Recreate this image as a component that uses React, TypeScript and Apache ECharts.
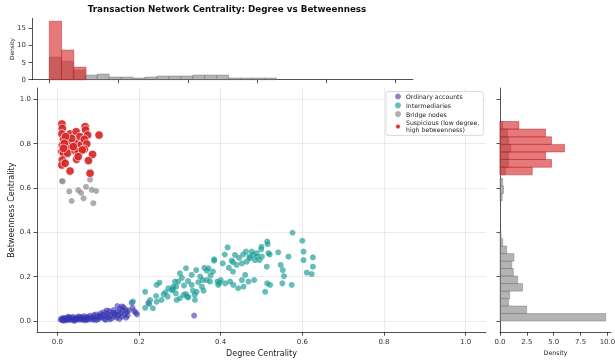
import React, { useEffect, useRef } from 'react';
import * as echarts from 'echarts';

// ---- Scatter data: [degree, betweenness]
const ordinary: number[][] = [
  [0.008, 0.006], [0.010, 0.012], [0.012, 0.004], [0.014, 0.009], [0.016, 0.015], [0.018, 0.007],
  [0.020, 0.011], [0.022, 0.003], [0.024, 0.013], [0.026, 0.008], [0.028, 0.017], [0.030, 0.005],
  [0.032, 0.010], [0.034, 0.014], [0.036, 0.006], [0.038, 0.019], [0.040, 0.009], [0.042, 0.012],
  [0.044, 0.004], [0.046, 0.016], [0.048, 0.008], [0.050, 0.011], [0.052, 0.021], [0.054, 0.006],
  [0.056, 0.013], [0.058, 0.009], [0.060, 0.018], [0.062, 0.005], [0.064, 0.012], [0.066, 0.022],
  [0.068, 0.008], [0.070, 0.015], [0.072, 0.010], [0.074, 0.019], [0.076, 0.006], [0.078, 0.013],
  [0.080, 0.024], [0.015, 0.002], [0.027, 0.020], [0.041, 0.001], [0.055, 0.017], [0.069, 0.003],
  [0.083, 0.009], [0.086, 0.017], [0.089, 0.027], [0.092, 0.012], [0.095, 0.030], [0.098, 0.020],
  [0.100, 0.008], [0.103, 0.025], [0.106, 0.035], [0.108, 0.015], [0.111, 0.028], [0.114, 0.040],
  [0.116, 0.010], [0.119, 0.022], [0.122, 0.033], [0.125, 0.018], [0.127, 0.045], [0.130, 0.027],
  [0.133, 0.012], [0.135, 0.038], [0.138, 0.050], [0.140, 0.022], [0.143, 0.032], [0.145, 0.015],
  [0.148, 0.043], [0.147, 0.068], [0.150, 0.028], [0.153, 0.055], [0.155, 0.036], [0.158, 0.020],
  [0.160, 0.047], [0.162, 0.062], [0.165, 0.030], [0.167, 0.052], [0.170, 0.040], [0.172, 0.025],
  [0.168, 0.015], [0.175, 0.048], [0.182, 0.083], [0.184, 0.060], [0.188, 0.045], [0.192, 0.038],
  [0.195, 0.030], [0.158, 0.066], [0.223, 0.082], [0.335, 0.025], [0.118, 0.005], [0.128, 0.008],
  [0.095, 0.004], [0.105, 0.018], [0.088, 0.006], [0.152, 0.010], [0.139, 0.035], [0.121, 0.048],
];

const intermediaries: number[][] = [
  [0.215, 0.132], [0.215, 0.060], [0.234, 0.058], [0.243, 0.087], [0.242, 0.113], [0.243, 0.163],
  [0.250, 0.173], [0.227, 0.095], [0.225, 0.077], [0.185, 0.088], [0.272, 0.148], [0.283, 0.143],
  [0.288, 0.178], [0.292, 0.095], [0.300, 0.103], [0.309, 0.118], [0.315, 0.122], [0.321, 0.107],
  [0.280, 0.140], [0.291, 0.155], [0.296, 0.178], [0.284, 0.155], [0.300, 0.215], [0.315, 0.238],
  [0.329, 0.208], [0.329, 0.163], [0.332, 0.137], [0.336, 0.118], [0.341, 0.132], [0.340, 0.230],
  [0.337, 0.095], [0.318, 0.110], [0.356, 0.185], [0.354, 0.155], [0.358, 0.137], [0.366, 0.227],
  [0.370, 0.238], [0.366, 0.185], [0.374, 0.178], [0.381, 0.223], [0.384, 0.278], [0.384, 0.272],
  [0.392, 0.178], [0.394, 0.163], [0.397, 0.172], [0.411, 0.170], [0.417, 0.332], [0.423, 0.178],
  [0.427, 0.272], [0.430, 0.223], [0.431, 0.163], [0.435, 0.298], [0.439, 0.253], [0.443, 0.148],
  [0.452, 0.185], [0.452, 0.260], [0.456, 0.155], [0.460, 0.208], [0.462, 0.313], [0.464, 0.268],
  [0.468, 0.178], [0.472, 0.283], [0.476, 0.313], [0.479, 0.298], [0.482, 0.185], [0.484, 0.275],
  [0.488, 0.306], [0.495, 0.275], [0.499, 0.323], [0.501, 0.290], [0.509, 0.132], [0.513, 0.245],
  [0.514, 0.358], [0.515, 0.347], [0.514, 0.170], [0.517, 0.306], [0.521, 0.163], [0.541, 0.310],
  [0.547, 0.253], [0.552, 0.230], [0.555, 0.203], [0.566, 0.290], [0.551, 0.170], [0.574, 0.163],
  [0.576, 0.398], [0.600, 0.362], [0.603, 0.313], [0.603, 0.275], [0.611, 0.218], [0.623, 0.212],
  [0.626, 0.287], [0.626, 0.245], [0.470, 0.290], [0.490, 0.290], [0.455, 0.300], [0.445, 0.285],
  [0.430, 0.265], [0.400, 0.185], [0.375, 0.205], [0.360, 0.240], [0.350, 0.200], [0.345, 0.175],
  [0.310, 0.160], [0.305, 0.195], [0.290, 0.125], [0.270, 0.110], [0.260, 0.120], [0.255, 0.095],
  [0.265, 0.130], [0.320, 0.180], [0.410, 0.300], [0.420, 0.240], [0.405, 0.260], [0.520, 0.300],
  [0.500, 0.335],
];

const bridges: number[][] = [
  [0.011, 0.631], [0.013, 0.629], [0.029, 0.584], [0.035, 0.541], [0.051, 0.590], [0.058, 0.578],
  [0.064, 0.553], [0.070, 0.605], [0.080, 0.637], [0.084, 0.591], [0.095, 0.586], [0.088, 0.531],
];

const suspicious: number[][] = [
  [0.011, 0.888], [0.012, 0.868], [0.011, 0.843], [0.015, 0.819], [0.012, 0.793], [0.011, 0.763],
  [0.015, 0.756], [0.012, 0.726], [0.011, 0.703], [0.019, 0.711], [0.031, 0.843], [0.028, 0.816],
  [0.033, 0.801], [0.027, 0.778], [0.025, 0.756], [0.031, 0.676], [0.046, 0.853], [0.047, 0.801],
  [0.043, 0.768], [0.047, 0.729], [0.055, 0.831], [0.058, 0.793], [0.051, 0.763], [0.068, 0.876],
  [0.069, 0.861], [0.074, 0.838], [0.066, 0.819], [0.072, 0.798], [0.066, 0.774], [0.102, 0.838],
  [0.086, 0.751], [0.076, 0.723], [0.080, 0.666], [0.035, 0.823], [0.020, 0.831], [0.061, 0.771],
  [0.051, 0.741], [0.017, 0.801], [0.039, 0.786], [0.015, 0.778],
];

// ---- Histograms: [binStart, binEnd, density]
const degreeAllHist: number[][] = [
  [0.0, 0.0345, 6.58], [0.0345, 0.069, 5.4], [0.069, 0.1035, 2.8], [0.1035, 0.138, 1.35],
  [0.138, 0.1725, 1.65], [0.1725, 0.207, 0.78], [0.207, 0.2415, 0.78], [0.2415, 0.276, 0.5],
  [0.276, 0.3105, 0.78], [0.3105, 0.345, 1.07], [0.345, 0.3795, 1.07], [0.3795, 0.414, 1.07],
  [0.414, 0.4485, 1.35], [0.4485, 0.483, 1.35], [0.483, 0.5175, 1.35], [0.5175, 0.552, 0.5],
  [0.552, 0.5865, 0.5], [0.5865, 0.621, 0.5], [0.621, 0.6555, 0.5],
];
const degreeSuspHist: number[][] = [
  [0.0, 0.0354, 17.0], [0.0354, 0.0707, 8.6], [0.0707, 0.106, 3.67],
];
const betweenAllHist: number[][] = [
  [0.0, 0.034, 9.84], [0.034, 0.068, 2.48], [0.068, 0.101, 0.8], [0.101, 0.135, 0.9],
  [0.135, 0.169, 2.1], [0.169, 0.203, 1.65], [0.203, 0.237, 1.24], [0.237, 0.27, 1.1],
  [0.27, 0.304, 1.3], [0.304, 0.338, 0.62], [0.338, 0.372, 0.25], [0.372, 0.406, 0.1],
  [0.541, 0.575, 0.2], [0.575, 0.609, 0.33], [0.609, 0.643, 0.25],
  [0.659, 0.693, 0.5], [0.693, 0.728, 0.8], [0.728, 0.762, 0.8], [0.762, 0.796, 1.0],
  [0.796, 0.83, 0.8], [0.83, 0.865, 0.7], [0.865, 0.899, 0.25],
];
const betweenSuspHist: number[][] = [
  [0.659, 0.693, 3.0], [0.693, 0.728, 4.8], [0.728, 0.762, 4.24], [0.762, 0.796, 6.0],
  [0.796, 0.83, 4.8], [0.83, 0.865, 4.24], [0.865, 0.899, 1.76],
];

const mainTicks = [0, 0.2, 0.4, 0.6, 0.8, 1.0];
const topDensityTicks = [0, 5, 10, 15];
const rightDensityTicks = [0, 2.5, 5, 7.5, 10];

const TITLE = 'Transaction Network Centrality: Degree vs Betweenness';
const NAMES = ['Ordinary accounts', 'Intermediaries', 'Bridge nodes', 'Suspicious (low degree,\nhigh betweenness)'];

export default function App() {
  const ref = useRef<HTMLDivElement>(null);
  useEffect(() => {
    const chart = echarts.init(ref.current as HTMLDivElement, null, { renderer: 'svg' });
    const font = 'DejaVu Sans';
    const dark = '#262626';
    const line = { show: true, onZero: false, lineStyle: { color: dark, width: 0.8 } };
    const tick = (vals: number[]) => ({ show: true, length: 3.5, lineStyle: { color: dark, width: 0.8 }, customValues: vals });
    const label = (vals: number[], margin: number, fmt?: (v: number) => string) => ({
      show: true, customValues: vals, fontSize: 7, color: '#333', margin, fontFamily: font,
      formatter: fmt || ((v: number) => String(v)),
    });
    const fix1 = (v: number) => v.toFixed(1);

    const vHist = (data: number[][], fill: string, stroke: string) => ({
      type: 'custom', xAxisIndex: 1, yAxisIndex: 1, data, silent: true,
      encode: { x: [0, 1], y: 2 },
      renderItem: (_p: any, api: any) => {
        const a = api.coord([api.value(0), 0]);
        const b = api.coord([api.value(1), api.value(2)]);
        return { type: 'rect', shape: { x: a[0], y: b[1], width: b[0] - a[0], height: a[1] - b[1] }, style: { fill, stroke, lineWidth: 0.6 } };
      },
    });
    const hHist = (data: number[][], fill: string, stroke: string) => ({
      type: 'custom', xAxisIndex: 2, yAxisIndex: 2, data, silent: true,
      encode: { y: [0, 1], x: 2 },
      renderItem: (_p: any, api: any) => {
        const a = api.coord([0, api.value(0)]);
        const b = api.coord([api.value(2), api.value(1)]);
        return { type: 'rect', shape: { x: a[0], y: b[1], width: b[0] - a[0], height: a[1] - b[1] }, style: { fill, stroke, lineWidth: 0.6 } };
      },
    });
    const grayFill = 'rgba(128,128,128,0.6)';
    const grayStroke = 'rgba(110,110,110,0.7)';
    const redFill = 'rgba(214,39,40,0.62)';
    const redStroke = 'rgba(190,30,30,0.75)';

    chart.setOption({
      animation: false,
      textStyle: { fontFamily: font },
      title: {
        text: TITLE, left: 222, top: -1, textAlign: 'center',
        textStyle: { fontSize: 8.75, fontWeight: 'bold', color: '#111', fontFamily: font },
      },
      grid: [
        { left: 37, top: 88, width: 449, height: 244.2, outerBoundsMode: 'none', containLabel: false },
        { left: 32, top: 18.3, width: 381, height: 61.4, outerBoundsMode: 'none', containLabel: false },
        { left: 500, top: 88, width: 111, height: 244.2, outerBoundsMode: 'none', containLabel: false },
      ],
      xAxis: [
        {
          gridIndex: 0, type: 'value', min: -0.05, max: 1.05,
          axisLine: line, axisTick: tick(mainTicks), axisLabel: label(mainTicks, 6, fix1),
          splitLine: { show: true, lineStyle: { color: '#e6e6e6', width: 0.8 } },
          name: 'Degree Centrality', nameLocation: 'middle', nameGap: 17, nameMoveOverlap: false,
          nameTextStyle: { fontSize: 8, color: '#222', fontFamily: font },
        },
        {
          gridIndex: 1, type: 'value', min: -0.05, max: 1.05,
          axisLine: line, axisTick: tick(mainTicks), axisLabel: { show: false, customValues: mainTicks },
          splitLine: { show: false },
        },
        {
          gridIndex: 2, type: 'value', min: 0, max: 10.33,
          axisLine: line, axisTick: tick(rightDensityTicks), axisLabel: label(rightDensityTicks, 6, fix1),
          splitLine: { show: false },
          name: 'Density', nameLocation: 'middle', nameGap: 17, nameMoveOverlap: false,
          nameTextStyle: { fontSize: 6.3, color: '#222', fontFamily: font },
        },
      ],
      yAxis: [
        {
          gridIndex: 0, type: 'value', min: -0.05, max: 1.05,
          axisLine: line, axisTick: tick(mainTicks), axisLabel: label(mainTicks, 6, fix1),
          splitLine: { show: true, lineStyle: { color: '#e6e6e6', width: 0.8 } },
          name: 'Betweenness Centrality', nameLocation: 'middle', nameGap: 22, nameMoveOverlap: false,
          nameTextStyle: { fontSize: 8, color: '#222', fontFamily: font },
        },
        {
          gridIndex: 1, type: 'value', min: 0, max: 17.85,
          axisLine: line, axisTick: tick(topDensityTicks), axisLabel: label(topDensityTicks, 6),
          splitLine: { show: false },
          name: 'Density', nameLocation: 'middle', nameGap: 17, nameMoveOverlap: false,
          nameTextStyle: { fontSize: 5.8, color: '#222', fontFamily: font },
        },
        {
          gridIndex: 2, type: 'value', min: -0.05, max: 1.05,
          axisLine: line, axisTick: tick(mainTicks), axisLabel: { show: false, customValues: mainTicks },
          splitLine: { show: false },
        },
      ],
      legend: {
        data: NAMES, orient: 'vertical', left: 386, top: 91.5,
        padding: [1.5, 4, 2, 8], itemWidth: 6, itemHeight: 6, itemGap: 1.8, icon: 'circle',
        textStyle: { fontSize: 6.2, color: '#222', lineHeight: 7, fontFamily: font },
        backgroundColor: '#fff', borderColor: '#d0d0d0', borderWidth: 0.8, borderRadius: 2,
      },
      series: [
        {
          type: 'scatter', name: NAMES[0], data: ordinary, xAxisIndex: 0, yAxisIndex: 0,
          symbolSize: 6, itemStyle: { color: '#3535b0', opacity: 0.6 },
        },
        {
          type: 'scatter', name: NAMES[1], data: intermediaries, xAxisIndex: 0, yAxisIndex: 0,
          symbolSize: 6, itemStyle: { color: '#1e9e98', opacity: 0.68 },
        },
        {
          type: 'scatter', name: NAMES[2], data: bridges, xAxisIndex: 0, yAxisIndex: 0,
          symbolSize: 6, itemStyle: { color: '#8a8a8a', opacity: 0.7 },
        },
        {
          type: 'scatter', name: NAMES[3], data: suspicious, xAxisIndex: 0, yAxisIndex: 0,
          symbolSize: 8.4, itemStyle: { color: '#d62728', opacity: 0.92, borderColor: '#fff', borderWidth: 0.7 },
        },
        vHist(degreeAllHist, grayFill, grayStroke),
        vHist(degreeSuspHist, redFill, redStroke),
        hHist(betweenAllHist, grayFill, grayStroke),
        hHist(betweenSuspHist, redFill, redStroke),
      ],
    });
    return () => chart.dispose();
  }, []);
  return <div ref={ref} style={{ position: 'fixed', left: 0, top: 0, width: 615, height: 361 }} />;
}
